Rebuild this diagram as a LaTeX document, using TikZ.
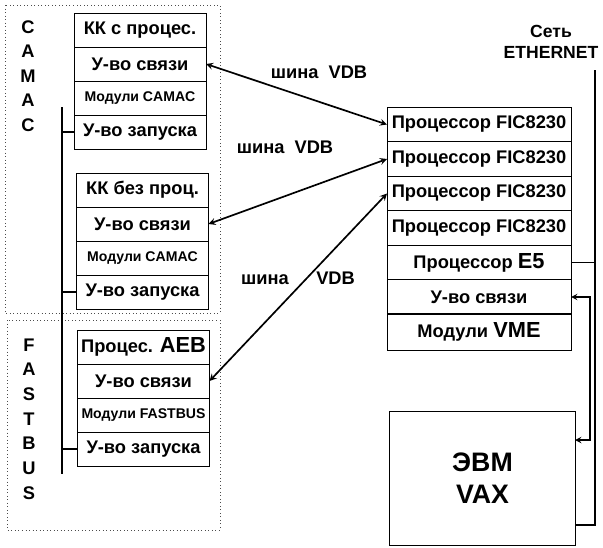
\documentclass[tikz,border=0pt]{standalone}
\usepackage{fontspec}
\setmainfont{Liberation Sans}
\usetikzlibrary{calc}

\begin{document}
\begin{tikzpicture}[x=0.025cm, y=-0.025cm,
        every node/.style={font=\fontsize{13}{15}\selectfont\bfseries},
        cell/.style={rectangle, draw, line width=0.6pt,
            minimum width=3.3cm, minimum height=0.85cm,
            inner sep=1pt, outer sep=0pt, align=center},
        vmecell/.style={cell, minimum width=4.6cm, minimum height=0.8625cm},
        small/.style={font=\fontsize{10}{12}\selectfont\bfseries},
        letters/.style={align=center, font=\fontsize{13}{17.5}\selectfont\bfseries},
        vaxbox/.style={rectangle, draw, line width=0.7pt,
            minimum width=4.625cm, minimum height=3.35cm, align=center,
            font=\fontsize{19}{23}\selectfont\bfseries},
        frame/.style={dotted, line width=0.5pt, black!70},
        biarrow/.style={<->, >=stealth, line width=1.2pt},
        busline/.style={line width=1.8pt},
        ethline/.style={line width=1.2pt},
        label/.style={font=\fontsize{13}{15}\selectfont\bfseries}
      ]
      \useasboundingbox (0,0) rectangle (603,547);
      \draw[frame] (5,5) rectangle (220,313);
      \draw[frame] (7,320) rectangle (220,530);
      \node[letters] (camac) at (28,76) {C\\A\\M\\A\\C};
      \node[letters] (fastbus) at (29,419) {F\\A\\S\\T\\B\\U\\S};
      \node[cell] (kkp) at (140,30) {КК с процес.};
      \node[cell] (svz1) at (140,64) {У-во связи};
      \node[cell, small] (cam1) at (140,98) {Модули CAMAC};
      \node[cell] (zap1) at (140,132) {У-во запуска};
      \node[cell] (kkb) at (142.5,190) {КК без проц.};
      \node[cell] (svz2) at (142.5,224) {У-во связи};
      \node[cell, small] (cam2) at (142.5,258) {Модули CAMAC};
      \node[cell] (zap2) at (142.5,292) {У-во запуска};
      \node[cell] (aeb) at (143.5,347)
      {Процес. {\fontsize{15.5}{16}\selectfont AEB}};
      \node[cell] (svz3) at (143.5,381) {У-во связи};
      \node[cell, small] (fbm) at (143.5,415) {Модули FASTBUS};
      \node[cell] (zap3) at (143.5,449) {У-во запуска};
      \node[vmecell] (fic1) at (479,124.5) {Процессор FIC8230};
      \node[vmecell] (fic2) at (479,159) {Процессор FIC8230};
      \node[vmecell] (fic3) at (479,193.5) {Процессор FIC8230};
      \node[vmecell] (fic4) at (479,228) {Процессор FIC8230};
      \node[vmecell] (e5) at (479,262.5)
      {Процессор {\fontsize{15.5}{16}\selectfont E5}};
      \node[vmecell] (svzv) at (479,297) {У-во связи};
      \node[vmecell, minimum height=0.925cm] (vme) at (479,331.5)
      {Модули {\fontsize{15.5}{16}\selectfont VME}};
      \node[vaxbox] (vax) at (482.5,478) {ЭВМ\\VAX};
      \node[align=center, font=\fontsize{12.5}{15}\selectfont\bfseries]
      (eth) at (551,42) {Сеть\\ETHERNET};
      \node[label] (vdb1) at (319,72) {шина\ \ VDB};
      \node[label] (vdb2) at (285,147) {шина\ \ VDB};
      \node[label] (vdb3) at (298,278) {шина\hspace{1.5em}VDB};
      \coordinate (trigtop) at (62,107);
      \coordinate (trigbot) at (62,474);
      \coordinate (ethtop) at (595,70);
      \coordinate (ethvax) at (575,525);
      \coordinate (vaxin) at (575,440);
      \draw[busline] (trigtop) -- (trigbot);
      \draw[line width=1pt] (zap1.west) -- (zap1.west -| trigtop);
      \draw[line width=1pt] (zap2.west) -- (zap2.west -| trigtop);
      \draw[line width=1pt] (zap3.west) -- (zap3.west -| trigtop);
      \draw[biarrow] (svz1.east) -- (fic1.west);
      \draw[biarrow] (svz2.east) -- (fic2.west);
      \draw[biarrow] (svz3.east) -- (fic3.west);
      \draw[ethline] (ethtop) |- (ethvax);
      \draw[ethline] (e5.east) -- (e5.east -| ethtop);
      \draw[biarrow, line width=1pt] (svzv.east) -- ++(19,0) |- (vaxin);
    \end{tikzpicture}
\end{document}
